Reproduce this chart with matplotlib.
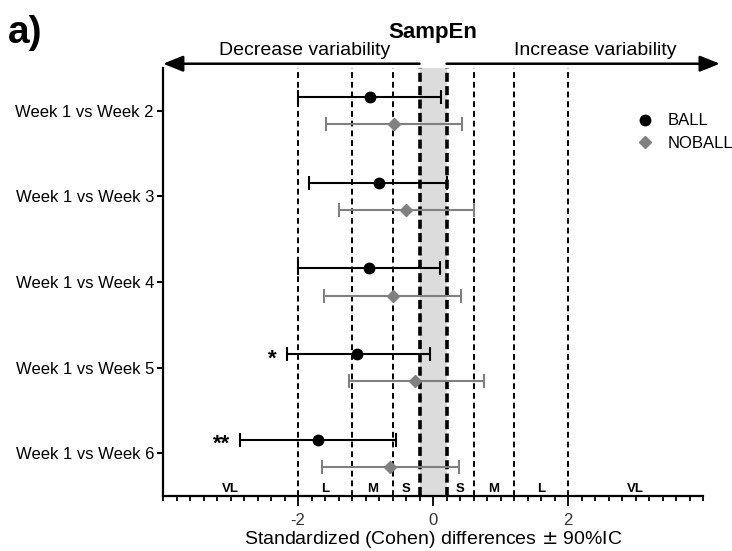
import numpy as np
import matplotlib
matplotlib.use("Agg")
import matplotlib.pyplot as plt
from matplotlib.lines import Line2D
from matplotlib.ticker import MultipleLocator, FixedLocator

plt.rcParams['font.family'] = ['Liberation Sans', 'DejaVu Sans']
plt.rcParams['axes.unicode_minus'] = False

comparisons = ["Week 1 vs Week 2", "Week 1 vs Week 3", "Week 1 vs Week 4",
               "Week 1 vs Week 5", "Week 1 vs Week 6"]

ball_mean = [-0.93, -0.80, -0.95, -1.12, -1.70]
ball_low = [-2.00, -1.84, -2.00, -2.17, -2.86]
ball_high = [0.12, 0.20, 0.10, -0.04, -0.55]

noball_mean = [-0.58, -0.40, -0.60, -0.27, -0.64]
noball_low = [-1.58, -1.40, -1.62, -1.25, -1.65]
noball_high = [0.43, 0.60, 0.41, 0.75, 0.385]

significance = ["", "", "", "*", "**"]

# magnitude thresholds (trivial band = +-0.2)
bounds = [-4, -2, -1.2, -0.6, -0.2, 0.2, 0.6, 1.2, 2, 4]
magnitudes = ["VL", "L", "M", "S", "", "S", "M", "L", "VL"]

GREY = "#808080"

fig = plt.figure(figsize=(7.32, 5.51), dpi=100)
ax = fig.add_axes([0.2227, 0.0998, 0.7377, 0.7768])

y = np.arange(len(comparisons))
off = 0.16

ax.axvspan(-0.2, 0.2, color="#dcdcdc", lw=0, zorder=0)
for b in bounds[1:-1]:
    if abs(b) == 0.2:
        ax.axvline(b, color="black", lw=2.6, ls=(0, (2.5, 1.2)), zorder=1)
    else:
        ax.axvline(b, color="black", lw=1.4, ls=(0, (3, 2)), zorder=1)

bm = np.array(ball_mean)
ax.errorbar(bm, y - off,
            xerr=[bm - np.array(ball_low), np.array(ball_high) - bm],
            fmt="o", color="black", ms=7.5, elinewidth=1.5, capsize=5,
            capthick=1.5, zorder=3)
nm = np.array(noball_mean)
ax.errorbar(nm, y + off,
            xerr=[nm - np.array(noball_low), np.array(noball_high) - nm],
            fmt="D", color=GREY, ms=6, elinewidth=1.5, capsize=5,
            capthick=1.5, zorder=3)

for yi, lo, s in zip(y, ball_low, significance):
    if s:
        ax.annotate(s, xy=(lo, yi - off), xytext=(-7, -3.5),
                    textcoords="offset points", ha="right", va="center",
                    fontsize=16, fontweight="bold")

for a, b, m in zip(bounds[:-1], bounds[1:], magnitudes):
    if m:
        ax.text((a + b) / 2, 0.003, m, transform=ax.get_xaxis_transform(),
                ha="center", va="bottom", fontsize=9.5, fontweight="bold")

ax.set_xlim(-4, 4)
ax.set_ylim(4.5, -0.5)
ax.set_yticks(y)
ax.set_yticklabels(comparisons, fontsize=12)
ax.xaxis.set_major_locator(FixedLocator([-2, 0, 2]))
ax.xaxis.set_minor_locator(MultipleLocator(0.2))
ax.tick_params(axis="x", which="major", length=7, width=1.3, labelsize=12,
               pad=5, labelcolor="#333333")
ax.tick_params(axis="x", which="minor", length=3.5, width=1.3)
ax.tick_params(axis="y", length=4, width=1.5, pad=2.5)
for sp in ["top", "right"]:
    ax.spines[sp].set_visible(False)
for sp in ["left", "bottom"]:
    ax.spines[sp].set_linewidth(1.6)
ax.set_xlabel("Standardized (Cohen) differences $\\pm$ 90%IC", fontsize=14,
              labelpad=1)

# direction arrows
tr = ax.get_xaxis_transform()
arrow = dict(arrowstyle="-|>,head_length=0.55,head_width=0.22", lw=1.8,
             color="black", mutation_scale=22, shrinkA=0, shrinkB=0)
ax.annotate("", xy=(-4, 1.01), xytext=(-0.2, 1.01), xycoords=tr,
            arrowprops=arrow, annotation_clip=False)
ax.annotate("", xy=(4.25, 1.01), xytext=(0.2, 1.01), xycoords=tr,
            arrowprops=arrow, annotation_clip=False)
ax.text(-1.9, 1.030, "Decrease variability", transform=tr, ha="center",
        va="baseline", fontsize=14)
ax.text(2.4, 1.030, "Increase variability", transform=tr, ha="center",
        va="baseline", fontsize=14)
ax.text(0, 1.070, "SampEn", transform=tr, ha="center", va="baseline",
        fontsize=16, fontweight="bold")
fig.text(8 / 732, 1 - 43 / 551, "a)", fontsize=28, fontweight="bold",
         va="baseline")

handles = [Line2D([], [], ls="none", marker="o", color="black", ms=7.5),
           Line2D([], [], ls="none", marker="D", color=GREY, ms=6)]
ax.legend(handles, ["BALL", "NOBALL"], loc="upper left",
          bbox_to_anchor=(0.877, 0.894), frameon=False, fontsize=12,
          handlelength=1, handletextpad=0.85, borderpad=0, borderaxespad=0,
          labelspacing=0.45)

fig.savefig("out.png", dpi=100)
